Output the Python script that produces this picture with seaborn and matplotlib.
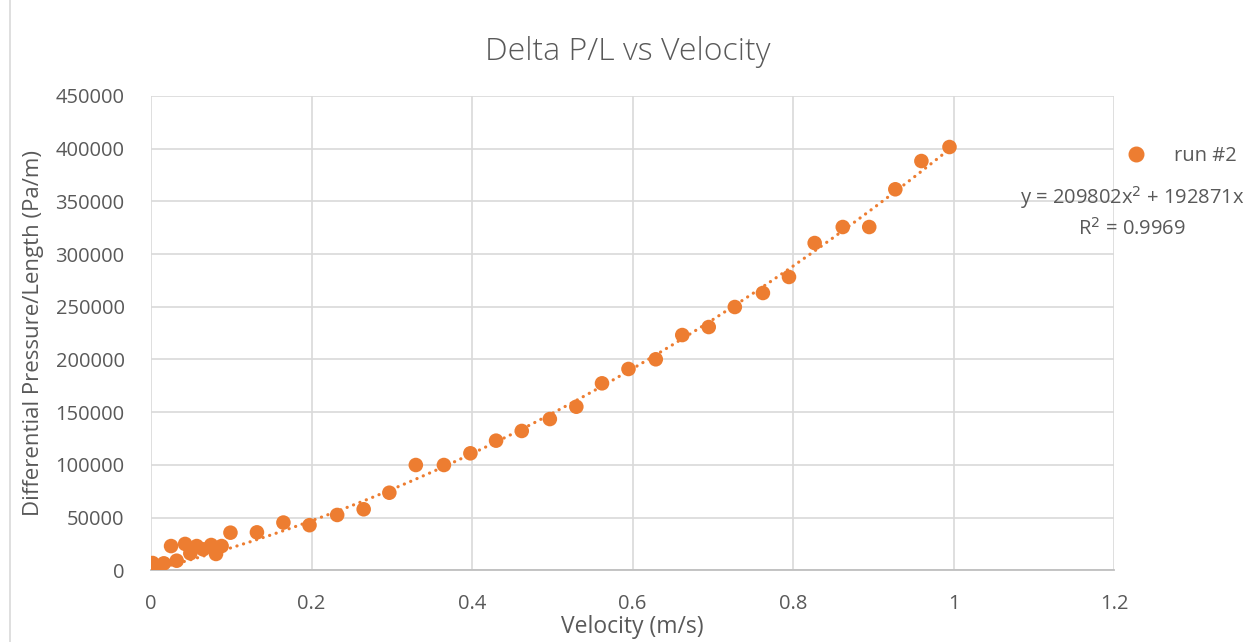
import numpy as np
import pandas as pd
import seaborn as sns
import matplotlib.pyplot as plt
from matplotlib.lines import Line2D

# run #2 readings
velocity = [0.002, 0.006, 0.016, 0.025, 0.032, 0.0425, 0.049, 0.057, 0.065, 0.075,
            0.081, 0.088, 0.099, 0.132, 0.165, 0.1975, 0.232, 0.265, 0.297, 0.330,
            0.365, 0.398, 0.430, 0.462, 0.497, 0.530, 0.562, 0.595, 0.629, 0.662,
            0.695, 0.7275, 0.7625, 0.795, 0.827, 0.862, 0.895, 0.9275, 0.960, 0.995]
dpl = [6900, 3100, 6600, 23000, 9100, 25000, 16100, 23000, 19900, 24000,
       15500, 23000, 35700, 36000, 45300, 42800, 52500, 57900, 73600, 99900,
       99900, 111000, 123000, 132200, 143500, 155200, 177400, 191000, 200200, 223200,
       230800, 249800, 263100, 278300, 310500, 325700, 325700, 361500, 388300, 401600]

# trendline shown on the chart
coef_a = 209802
coef_b = 192871
r_squared = 0.9969

xticks = [0, 0.2, 0.4, 0.6, 0.8, 1, 1.2]
yticks = list(range(0, 450001, 50000))

orange = '#ED7D31'
grey_txt = '#595959'

df = pd.DataFrame({'velocity': velocity, 'dpl': dpl})

sns.set_style('white')
plt.rcParams['font.family'] = ['Open Sans', 'DejaVu Sans']

fig = plt.figure(figsize=(12.52, 6.42), dpi=100)
ax = fig.add_axes([151/1252, 1 - 570.3/642, (1114 - 151)/1252, (570.3 - 96)/642])

sns.scatterplot(data=df, x='velocity', y='dpl', ax=ax, color=orange, s=110,
                edgecolor='none', zorder=3, legend=False)

xf = np.linspace(0, max(velocity), 200)
ax.plot(xf, coef_a * xf**2 + coef_b * xf, color=orange, lw=2.3,
        linestyle=(0, (0.05, 2.1)), dash_capstyle='round', zorder=2)

ax.set_xlim(0, 1.2)
ax.set_ylim(0, 450000)
ax.set_xticks(xticks)
ax.set_xticklabels(['0', '0.2', '0.4', '0.6', '0.8', '1', '1.2'])
ax.set_yticks(yticks)
ax.set_yticklabels([str(v) for v in yticks])
ax.grid(True, color='#d9d9d9', lw=1.2)
ax.set_axisbelow(True)
for side in ['top', 'right', 'left']:
    ax.spines[side].set_visible(False)
ax.spines['bottom'].set_color('#bfbfbf')
ax.spines['bottom'].set_linewidth(1.3)
ax.tick_params(axis='both', length=0, labelsize=14.5, colors=grey_txt)
ax.tick_params(axis='x', pad=17)
ax.tick_params(axis='y', pad=19)

ax.set_xlabel('Velocity (m/s)', fontsize=16.5, color=grey_txt, labelpad=1)
ax.set_ylabel('Differential Pressure/Length (Pa/m)', fontsize=16, color=grey_txt, labelpad=8)
fig.text(628/1252, 1 - 52/642, 'Delta P/L vs Velocity', ha='center', va='center',
         fontsize=23, color=grey_txt, fontweight='light')

# legend entry
handle = Line2D([], [], marker='o', ls='none', color=orange, markersize=10.5)
fig.legend([handle], ['run #2'], loc='center left', bbox_to_anchor=(1126/1252, 1 - 156/642),
           frameon=False, fontsize=14.5, labelcolor=grey_txt, handlelength=1,
           handletextpad=1.4, borderpad=0, borderaxespad=0)

fig.text(1132/1252, 1 - 212/642,
         f'y = {coef_a}x$^2$ + {coef_b}x\nR$^2$ = {r_squared}',
         ha='center', va='center', fontsize=14.5, color=grey_txt, linespacing=1.45)

# chart area border on the left
fig.add_artist(Line2D([10/1252, 10/1252], [0, 1], color='#d9d9d9', lw=1.2))

fig.savefig('out.png', dpi=100)
